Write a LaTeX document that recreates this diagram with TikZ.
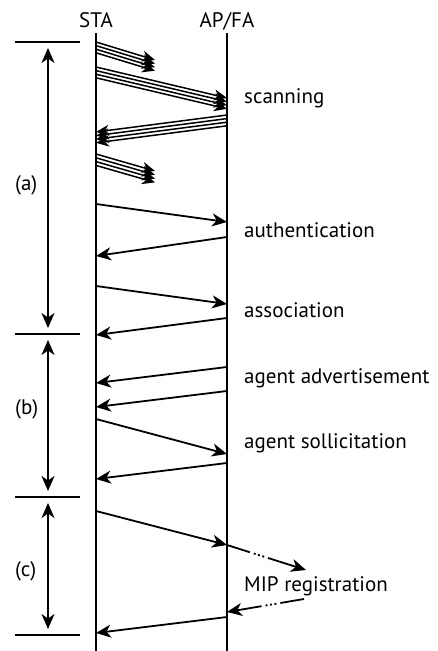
\documentclass[tikz,border=0pt]{standalone}
\usepackage{fontspec}
\setmainfont{PT Sans}
\usetikzlibrary{arrows.meta}
\begin{document}
\begin{tikzpicture}[x=1pt,y=-1pt,
  tip/.tip={Stealth[length=15pt,width=13pt,inset=4.5pt]},
  msg/.style={line width=1.8pt,-tip},
  thin msg/.style={line width=1.5pt,-{Stealth[length=13pt,width=11pt,inset=4pt]}},
  life/.style={line width=1.7pt},
  bar/.style={line width=1.7pt},
  span/.style={line width=1.7pt,tip-tip},
  lbl/.style={font=\fontsize{21}{25}\selectfont,inner sep=0pt,anchor=base west},
  hdr/.style={font=\fontsize{21}{25}\selectfont,inner sep=0pt,anchor=base},
  mip/.style={line width=1.8pt,dash pattern=on 24pt off 4pt on 2pt off 2.5pt on 2pt off 2.5pt on 2pt off 4pt on 60pt,-tip}]
\useasboundingbox (0,0) rectangle (437,651);
% headers
\node[hdr] (sta) at (96,27) {STA};
\node[hdr] (ap) at (227,27) {AP/FA};
% lifelines
\coordinate (staT) at (96,33); \coordinate (staB) at (96,651);
\coordinate (apT) at (227,33); \coordinate (apB) at (227,651);
\draw[life] (staT) -- (staB);
\draw[life] (apT) -- (apB);
% phase bars
\coordinate (b0l) at (15,42);  \coordinate (b0r) at (80,42);
\coordinate (b1l) at (15,334); \coordinate (b1r) at (80,334);
\coordinate (b2l) at (15,497); \coordinate (b2r) at (80,497);
\coordinate (b3l) at (15,635); \coordinate (b3r) at (80,635);
\draw[bar] (b0l) -- (b0r);
\draw[bar] (b1l) -- (b1r);
\draw[bar] (b2l) -- (b2r);
\draw[bar] (b3l) -- (b3r);
\coordinate (a0) at (48,48);  \coordinate (a1) at (48,328);
\coordinate (bb0) at (48,340); \coordinate (bb1) at (48,491);
\coordinate (c0) at (48,503); \coordinate (c1) at (48,629);
\draw[span] (a0) -- (a1);
\draw[span] (bb0) -- (bb1);
\draw[span] (c0) -- (c1);
\node[lbl] (la) at (15,190) {(a)};
\node[lbl] (lb) at (15,414) {(b)};
\node[lbl] (lc) at (15,576) {(c)};
% scanning groups
\foreach \k in {0,1,2,3}{
  \coordinate (g1s\k) at (96,42+3.6*\k);  \coordinate (g1e\k) at (155,60+3.6*\k);
  \coordinate (g2s\k) at (96,67+3.6*\k);  \coordinate (g2e\k) at (227,98+3.6*\k);
  \coordinate (g3s\k) at (227,115+3.6*\k); \coordinate (g3e\k) at (96,132+3.6*\k);
  \coordinate (g4s\k) at (96,154+3.8*\k); \coordinate (g4e\k) at (155,171+3.8*\k);
  \draw[thin msg] (g1s\k) -- (g1e\k);
  \draw[thin msg] (g2s\k) -- (g2e\k);
  \draw[thin msg] (g3s\k) -- (g3e\k);
  \draw[thin msg] (g4s\k) -- (g4e\k);
}
\node[lbl] (scan) at (244,103) {scanning};
% authentication
\coordinate (m1s) at (96,204); \coordinate (m1e) at (227,222);
\coordinate (m2s) at (227,237); \coordinate (m2e) at (96,256);
\draw[msg] (m1s) -- (m1e);
\draw[msg] (m2s) -- (m2e);
\node[lbl] (auth) at (244,237) {authentication};
% association
\coordinate (m3s) at (96,286); \coordinate (m3e) at (227,304);
\coordinate (m4s) at (227,318); \coordinate (m4e) at (96,335);
\draw[msg] (m3s) -- (m3e);
\draw[msg] (m4s) -- (m4e);
\node[lbl] (assoc) at (244,317) {association};
% agent advertisement
\coordinate (m5s) at (227,367); \coordinate (m5e) at (96,383);
\coordinate (m6s) at (227,391); \coordinate (m6e) at (96,407);
\draw[msg] (m5s) -- (m5e);
\draw[msg] (m6s) -- (m6e);
\node[lbl] (adv) at (244,383) {agent advertisement};
% agent sollicitation
\coordinate (m7s) at (96,419); \coordinate (m7e) at (227,454);
\coordinate (m8s) at (227,463); \coordinate (m8e) at (96,479);
\draw[msg] (m7s) -- (m7e);
\draw[msg] (m8s) -- (m8e);
\node[lbl] (sol) at (244,448) {agent sollicitation};
% MIP registration
\coordinate (m9s) at (96,511); \coordinate (m9e) at (227,545);
\coordinate (m10e) at (306,570);
\coordinate (m11s) at (304,599); \coordinate (m11e) at (227,612);
\coordinate (m12s) at (227,617); \coordinate (m12e) at (96,633);
\draw[msg] (m9s) -- (m9e);
\draw[mip] (m9e) -- (m10e);
\draw[mip] (m11s) -- (m11e);
\draw[msg] (m12s) -- (m12e);
\node[lbl] (mip) at (244,591) {MIP registration};
\end{tikzpicture}
\end{document}
